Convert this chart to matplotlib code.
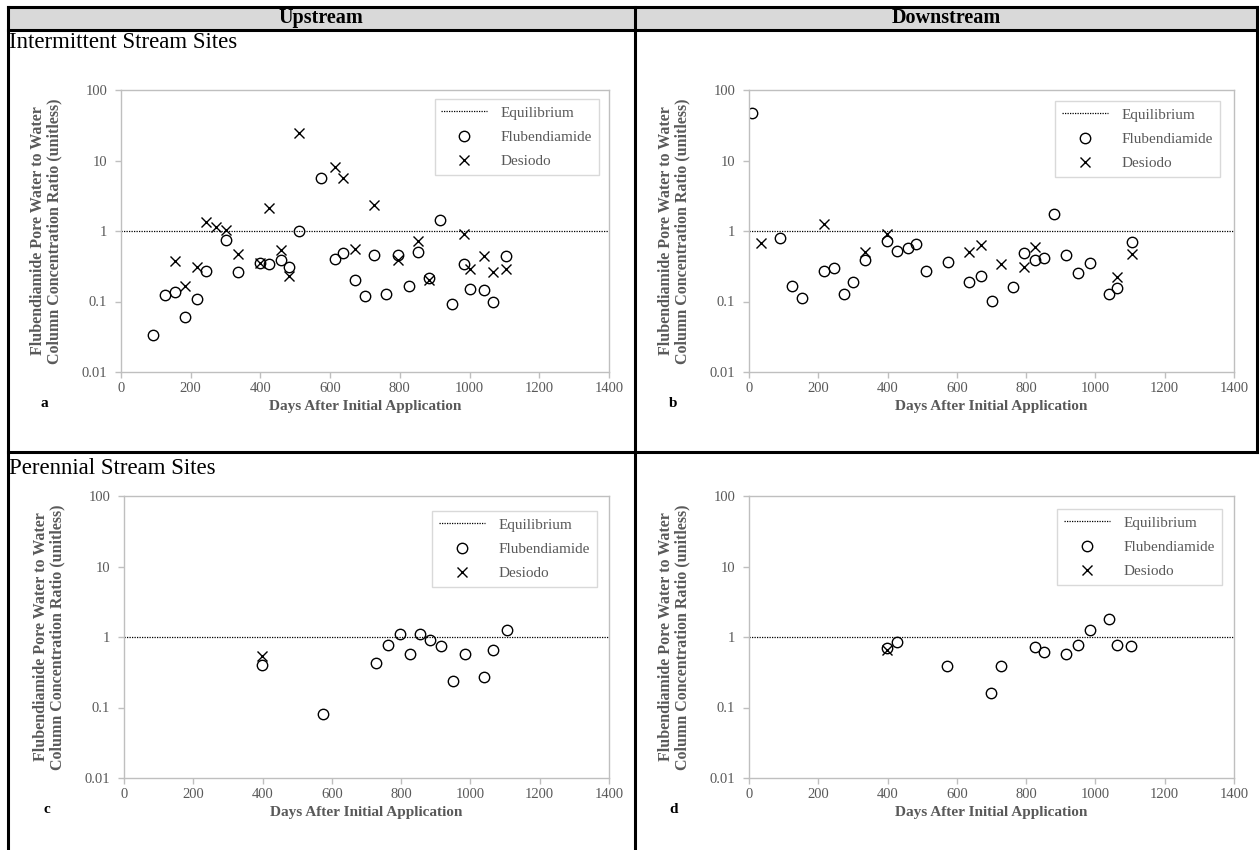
import matplotlib
matplotlib.use("Agg")
import matplotlib.pyplot as plt
from matplotlib.patches import Rectangle
from matplotlib.ticker import FixedLocator, FixedFormatter, NullLocator

plt.rcParams['font.family'] = ['Liberation Serif', 'DejaVu Serif']

# ---- data ----
# panel a: upstream, intermittent
a_flub_days = [91, 125, 154, 183, 217, 245, 302, 335, 398, 426, 460, 481, 511, 573, 615, 636,
               670, 700, 727, 761, 796, 827, 853, 884, 915, 951, 983, 1000, 1041, 1066, 1105]
a_flub_ratio = [0.034, 0.124, 0.138, 0.060, 0.108, 0.274, 0.745, 0.259, 0.352, 0.340, 0.388, 0.312,
                1.0, 5.58, 0.405, 0.493, 0.204, 0.121, 0.457, 0.126, 0.457, 0.166, 0.504, 0.218,
                1.45, 0.092, 0.340, 0.149, 0.146, 0.100, 0.442]
a_des_days = [154, 183, 217, 245, 273, 302, 335, 398, 426, 460, 481, 511, 615, 636, 670, 727,
              796, 853, 884, 985, 1000, 1041, 1066, 1105]
a_des_ratio = [0.375, 0.168, 0.309, 1.36, 1.15, 1.03, 0.467, 0.356, 2.14, 0.532, 0.227, 24.3,
               8.0, 5.58, 0.55, 2.34, 0.392, 0.729, 0.202, 0.897, 0.289, 0.442, 0.262, 0.289]

# panel b: downstream, intermittent
b_flub_days = [9, 89, 124, 153, 216, 244, 273, 301, 335, 398, 426, 459, 481, 512, 573, 635,
               670, 700, 761, 794, 825, 852, 881, 916, 950, 983, 1039, 1063, 1105]
b_flub_ratio = [47.7, 0.804, 0.168, 0.111, 0.274, 0.299, 0.128, 0.187, 0.392, 0.729, 0.520, 0.568,
                0.661, 0.268, 0.360, 0.187, 0.232, 0.103, 0.162, 0.493, 0.392, 0.414, 1.72, 0.462,
                0.256, 0.348, 0.126, 0.155, 0.698]
b_des_days = [35, 216, 335, 398, 634, 670, 727, 794, 825, 1063, 1105]
b_des_ratio = [0.676, 1.26, 0.504, 0.916, 0.504, 0.626, 0.340, 0.309, 0.587, 0.225, 0.467]

# panel c: upstream, perennial
c_flub_days = [399, 574, 727, 762, 796, 827, 853, 883, 916, 951, 984, 1040, 1064, 1105]
c_flub_ratio = [0.400, 0.080, 0.428, 0.778, 1.10, 0.580, 1.10, 0.906, 0.753, 0.235, 0.574,
                0.273, 0.647, 1.24]
c_des_days = [399]
c_des_ratio = [0.543]

# panel d: downstream, perennial
d_flub_days = [397, 426, 572, 699, 726, 826, 852, 916, 949, 983, 1039, 1063, 1104]
d_flub_ratio = [0.690, 0.849, 0.387, 0.160, 0.387, 0.713, 0.606, 0.580, 0.770, 1.27, 1.82,
                0.770, 0.753]
d_des_days = [397]
d_des_ratio = [0.647]

equilibrium = 1.0
x_ticks = [0, 200, 400, 600, 800, 1000, 1200, 1400]
y_ticks = [0.01, 0.1, 1, 10, 100]
y_tick_labels = ["0.01", "0.1", "1", "10", "100"]

W, H = 1259, 850
fig = plt.figure(figsize=(W / 100, H / 100), dpi=100)

# table grid drawn on a full-figure overlay in pixel units
grid = fig.add_axes([0, 0, 1, 1], zorder=0)
grid.set_xlim(0, W)
grid.set_ylim(H, 0)
grid.axis("off")
grid.add_patch(Rectangle((8, 7), 1249, 23, facecolor="#d9d9d9", edgecolor="none"))
lw = 2.2
for xs, ys in [((8, 1257), (7, 7)), ((8, 1257), (30, 30)), ((8, 1257), (452, 452)),
               ((8, 8), (7, 850)), ((635, 635), (7, 850)), ((1257, 1257), (7, 452))]:
    grid.plot(xs, ys, color="black", lw=lw, solid_capstyle="projecting")
grid.text(321, 18, "Upstream", ha="center", va="center", fontsize=14.5, fontweight="bold")
grid.text(946, 18, "Downstream", ha="center", va="center", fontsize=14.5, fontweight="bold")
grid.text(9, 42, "Intermittent Stream Sites", ha="left", va="center", fontsize=16.5)
grid.text(9, 468, "Perennial Stream Sites", ha="left", va="center", fontsize=16.5)

gray = "#595959"
spine = "#bfbfbf"


def panel(box, letter, flub_x, flub_y, des_x, des_y, leg_anchor):
    x0, x1, ytop, ybot = box
    ax = fig.add_axes([x0 / W, 1 - ybot / H, (x1 - x0) / W, (ybot - ytop) / H], zorder=1)
    ax.set_yscale("log")
    ax.set_xlim(0, 1400)
    ax.set_ylim(0.01, 100)
    ax.axhline(equilibrium, color="black", lw=0.9, ls=(0, (1, 1)), label="Equilibrium")
    ax.plot(flub_x, flub_y, ls="none", marker="o", ms=7.5, mfc="none", mec="black", mew=1.0,
            label="Flubendiamide")
    ax.plot(des_x, des_y, ls="none", marker="x", ms=7.5, mec="black", mew=1.0, label="Desiodo")
    ax.xaxis.set_major_locator(FixedLocator(x_ticks))
    ax.yaxis.set_major_locator(FixedLocator(y_ticks))
    ax.yaxis.set_major_formatter(FixedFormatter(y_tick_labels))
    ax.yaxis.set_minor_locator(NullLocator())
    for s in ax.spines.values():
        s.set_color(spine)
        s.set_linewidth(1.0)
    ax.tick_params(axis="both", colors=spine, labelcolor=gray, labelsize=10.5, length=4,
                   width=1.0, direction="out")
    ax.tick_params(axis="y", pad=6)
    ax.set_xlabel("Days After Initial Application", fontsize=11, fontweight="bold",
                  color=gray, labelpad=3)
    ax.set_ylabel("Flubendiamide Pore Water to Water\nColumn Concentration Ratio (unitless)",
                  fontsize=11.5, fontweight="bold", color=gray, labelpad=14, linespacing=1.0)
    leg = ax.legend(loc="upper right", bbox_to_anchor=leg_anchor, borderaxespad=0,
                    fontsize=11, frameon=True, fancybox=False, edgecolor="#d0d0d0",
                    handlelength=3.0, labelspacing=0.7, borderpad=0.45, handletextpad=0.9)
    for t in leg.get_texts():
        t.set_color(gray)
    ax.text(-0.165, -0.11, letter, transform=ax.transAxes, fontsize=11,
            fontweight="bold", ha="left", va="center")
    return ax


panel((121, 609, 90, 372), "a", a_flub_days, a_flub_ratio, a_des_days, a_des_ratio, (0.98, 0.968))
panel((749, 1234, 90, 372), "b", b_flub_days, b_flub_ratio, b_des_days, b_des_ratio, (0.971, 0.961))
panel((124, 609, 496, 778), "c", c_flub_days, c_flub_ratio, c_des_days, c_des_ratio, (0.975, 0.947))
panel((749, 1234, 496, 778), "d", d_flub_days, d_flub_ratio, d_des_days, d_des_ratio, (0.975, 0.954))

fig.savefig("out.png", dpi=100)
